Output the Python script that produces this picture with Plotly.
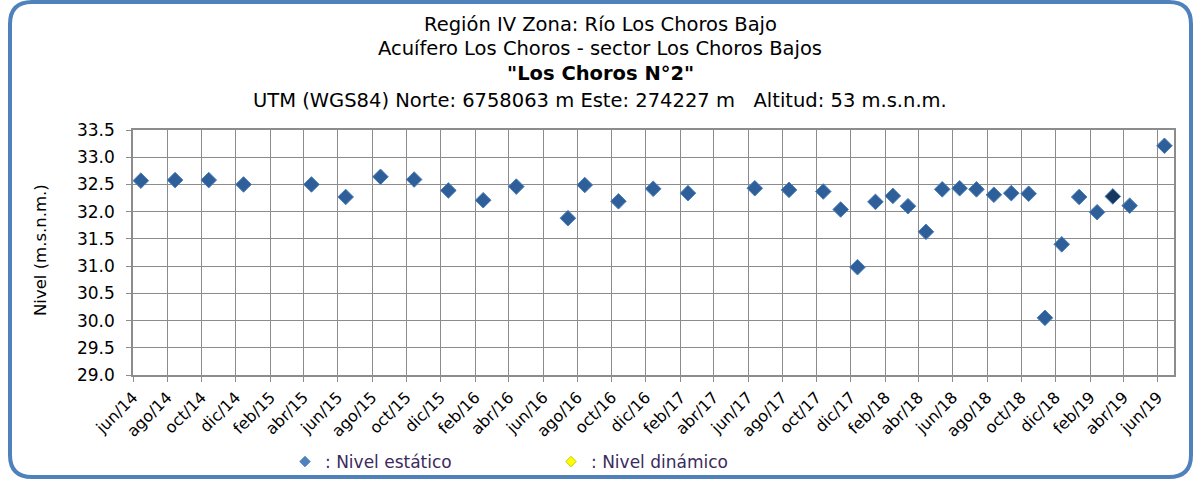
import plotly.graph_objects as go

# Measurement dates and static water level (m.s.n.m.)
fechas = [
    "2014-06-15", "2014-08-15", "2014-10-14", "2014-12-15", "2015-04-15",
    "2015-06-15", "2015-08-16", "2015-10-15", "2015-12-15", "2016-02-15",
    "2016-04-14", "2016-07-15", "2016-08-14", "2016-10-13", "2016-12-14",
    "2017-02-14", "2017-06-13", "2017-08-13", "2017-10-13", "2017-11-13",
    "2017-12-13", "2018-01-14", "2018-02-14", "2018-03-13", "2018-04-14",
    "2018-05-13", "2018-06-13", "2018-07-13", "2018-08-13", "2018-09-13",
    "2018-10-14", "2018-11-12", "2018-12-12", "2019-01-12", "2019-02-13",
    "2019-03-13", "2019-04-12", "2019-06-13",
]
nivel_estatico = [
    32.57, 32.58, 32.58, 32.50, 32.50,
    32.27, 32.64, 32.59, 32.39, 32.21,
    32.46, 31.88, 32.49, 32.19, 32.42,
    32.34, 32.43, 32.40, 32.37, 32.04,
    30.98, 32.18, 32.29, 32.10, 31.63,
    32.41, 32.43, 32.41, 32.31, 32.34,
    32.33, 30.05, 31.40, 32.27, 31.99,
    32.28, 32.11, 33.21,
]
# Dynamic level: no readings in this period
fechas_dinamico = []
nivel_dinamico = []

fecha_destacada = "2019-03-13"

meses_es = ["ene", "feb", "mar", "abr", "may", "jun",
            "jul", "ago", "sep", "oct", "nov", "dic"]
y_ticks = [29.0, 29.5, 30.0, 30.5, 31.0, 31.5, 32.0, 32.5, 33.0, 33.5]

titulo = [
    "Región IV Zona: Río Los Choros Bajo",
    "Acuífero Los Choros - sector Los Choros Bajos",
    "<b>\"Los Choros N°2\"</b>",
    "UTM (WGS84) Norte: 6758063 m Este: 274227 m   Altitud: 53 m.s.n.m.",
]

# Bimonthly ticks jun/14 .. jun/19
tick_vals, tick_text = [], []
y, m = 2014, 6
while (y, m) <= (2019, 6):
    tick_vals.append(f"{y}-{m:02d}-01")
    tick_text.append(f"{meses_es[m - 1]}/{str(y)[2:]}")
    m += 2
    if m > 12:
        m -= 12
        y += 1

W, H = 1194, 484
PL, PR, PT, PB = 133, 1174, 130, 375


def fx(px):
    return (px - PL) / (PR - PL)


def fy(py):
    return (PB - py) / (PB - PT)


FONT = "DejaVu Sans"
BASE = "#2F5F98"
DARK = "#17375E"
GRID = "#8C8C8C"

colores = [DARK if f == fecha_destacada else BASE for f in fechas]

fig = go.Figure()
fig.add_trace(go.Scatter(
    x=fechas, y=nivel_estatico, mode="markers", showlegend=False,
    marker=dict(symbol="diamond", size=12, color=colores,
                line=dict(color="#4A7EBB", width=1)),
))
# Legend entries
fig.add_trace(go.Scatter(
    x=[None], y=[None], mode="markers", name=": Nivel estático",
    marker=dict(symbol="diamond", size=8, color="#4F81BD",
                line=dict(color="#4A7EBB", width=1)),
))
fig.add_trace(go.Scatter(
    x=fechas_dinamico if fechas_dinamico else [None],
    y=nivel_dinamico if nivel_dinamico else [None],
    mode="markers", name=": Nivel dinámico",
    marker=dict(symbol="diamond", size=8, color="#FFFF00",
                line=dict(color="#C8C800", width=1)),
))

# Title lines
title_y = [25, 48, 73, 100]
for txt, ty in zip(titulo, title_y):
    fig.add_annotation(text=txt, x=fx(600), y=fy(ty), xref="paper", yref="paper",
                       showarrow=False, xanchor="center", yanchor="middle",
                       font=dict(family=FONT, size=19.5, color="#000000"))

fig.add_annotation(text="Nivel (m.s.n.m.)", x=fx(40), y=fy(250), xref="paper",
                   yref="paper", showarrow=False, textangle=-90,
                   xanchor="center", yanchor="middle",
                   font=dict(family=FONT, size=16.5, color="#000000"))

# Rounded outer frame
x0, x1, y0, y1, r = 10, 1191, 2, 477, 22
path = (
    f"M {fx(x0 + r)},{fy(y0)} L {fx(x1 - r)},{fy(y0)} "
    f"Q {fx(x1)},{fy(y0)} {fx(x1)},{fy(y0 + r)} "
    f"L {fx(x1)},{fy(y1 - r)} Q {fx(x1)},{fy(y1)} {fx(x1 - r)},{fy(y1)} "
    f"L {fx(x0 + r)},{fy(y1)} Q {fx(x0)},{fy(y1)} {fx(x0)},{fy(y1 - r)} "
    f"L {fx(x0)},{fy(y0 + r)} Q {fx(x0)},{fy(y0)} {fx(x0 + r)},{fy(y0)} Z"
)
fig.add_shape(type="path", path=path, xref="paper", yref="paper",
              line=dict(color="#4F81BD", width=4), layer="above")

fig.update_xaxes(
    type="date", range=["2014-06-01", "2019-06-30"],
    tickmode="array", tickvals=tick_vals, ticktext=tick_text, tickangle=-45,
    showgrid=True, gridcolor=GRID, gridwidth=1,
    showline=True, linecolor=GRID, linewidth=1.5, mirror=True,
    ticks="outside", ticklen=5, tickcolor=GRID,
    tickfont=dict(family=FONT, size=16, color="#000000"),
    zeroline=False, automargin=False,
)
fig.update_yaxes(
    range=[29.0, 33.5], tickmode="array", tickvals=y_ticks,
    ticktext=[f"{v:.1f}" for v in y_ticks],
    showgrid=True, gridcolor=GRID, gridwidth=1,
    showline=True, linecolor=GRID, linewidth=1.5, mirror=True,
    ticks="outside", ticklen=5, tickcolor=GRID, ticklabelstandoff=8,
    tickfont=dict(family=FONT, size=17, color="#000000"),
    zeroline=False, automargin=False,
)

fig.update_layout(
    width=W, height=H, autosize=False,
    margin=dict(l=PL, r=W - PR, t=PT, b=H - PB, pad=0, autoexpand=False),
    paper_bgcolor="#FFFFFF", plot_bgcolor="#FFFFFF",
    showlegend=True,
    legend=dict(orientation="h", x=fx(285), y=fy(462), xanchor="left",
                yanchor="middle", entrywidth=221, entrywidthmode="pixels",
                itemwidth=30, bgcolor="rgba(0,0,0,0)",
                font=dict(family=FONT, size=17, color="#3C2A5C")),
)

fig.write_html("out.html")
